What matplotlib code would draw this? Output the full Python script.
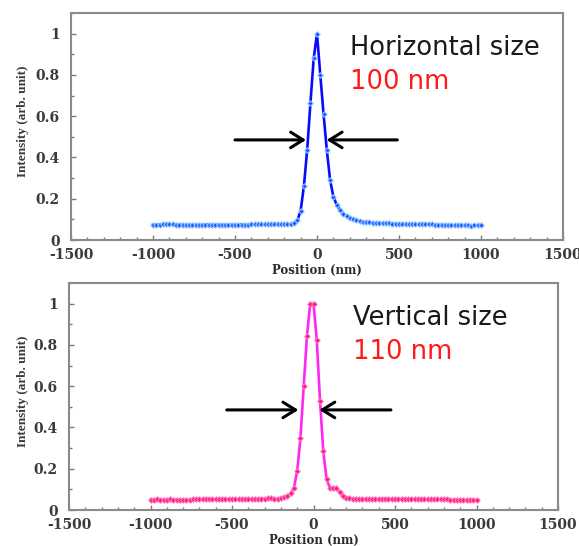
import numpy as np
import matplotlib
matplotlib.use("Agg")
import matplotlib.pyplot as plt
from matplotlib.patches import FancyArrowPatch
from matplotlib.ticker import MultipleLocator

# ---------------- data ----------------
position_nm = list(range(-1000, 1001, 20))

horizontal_intensity = [
    0.074, 0.073, 0.075, 0.076, 0.076, 0.077, 0.076, 0.075, 0.074, 0.074,   # -1000..-820
    0.073, 0.073, 0.072, 0.073, 0.073, 0.074, 0.074, 0.075, 0.074, 0.074,   # -800..-620
    0.073, 0.073, 0.074, 0.074, 0.073, 0.073, 0.074, 0.075, 0.074, 0.075,   # -600..-420
    0.076, 0.076, 0.077, 0.077, 0.076, 0.077, 0.078, 0.077, 0.078, 0.079,   # -400..-220
    0.078, 0.077, 0.076, 0.082, 0.095, 0.14, 0.26, 0.435, 0.665, 0.88,      # -200..-20
    1.0,                                                                      # 0
    0.80, 0.61, 0.435, 0.29, 0.21, 0.17, 0.145, 0.128, 0.117, 0.108,        # 20..200
    0.100, 0.095, 0.091, 0.088, 0.086, 0.085, 0.084, 0.083, 0.082, 0.081,   # 220..400
    0.080, 0.080, 0.079, 0.079, 0.078, 0.078, 0.078, 0.077, 0.077, 0.076,   # 420..600
    0.076, 0.076, 0.077, 0.077, 0.076, 0.075, 0.074, 0.073, 0.072, 0.071,   # 620..800
    0.071, 0.072, 0.072, 0.072, 0.071, 0.071, 0.070, 0.071, 0.071, 0.071,   # 820..1000
]

vertical_intensity = [
    0.050, 0.050, 0.051, 0.050, 0.050, 0.050, 0.051, 0.050, 0.050, 0.049,   # -1000..-820
    0.049, 0.050, 0.050, 0.051, 0.052, 0.052, 0.051, 0.051, 0.052, 0.052,   # -800..-620
    0.051, 0.051, 0.052, 0.052, 0.051, 0.052, 0.052, 0.053, 0.052, 0.052,   # -600..-420
    0.053, 0.053, 0.052, 0.053, 0.054, 0.055, 0.056, 0.057, 0.055, 0.054,   # -400..-220
    0.057, 0.062, 0.068, 0.080, 0.107, 0.19, 0.35, 0.60, 0.845, 1.0,        # -200..-20
    1.0,                                                                      # 0
    0.825, 0.53, 0.285, 0.15, 0.107, 0.107, 0.105, 0.088, 0.068, 0.060,     # 20..200
    0.058, 0.055, 0.055, 0.054, 0.053, 0.054, 0.053, 0.053, 0.054, 0.053,   # 220..400
    0.053, 0.054, 0.054, 0.053, 0.053, 0.054, 0.053, 0.053, 0.052, 0.053,   # 420..600
    0.053, 0.052, 0.053, 0.052, 0.052, 0.053, 0.052, 0.052, 0.051, 0.051,   # 620..800
    0.051, 0.050, 0.050, 0.050, 0.049, 0.049, 0.049, 0.048, 0.048, 0.048,   # 820..1000
]

x_ticks = [-1500, -1000, -500, 0, 500, 1000, 1500]
x_tick_labels = ["-1500", "-1000", "-500", "0", "500", "1000", "1500"]
y_ticks = [0, 0.2, 0.4, 0.6, 0.8, 1.0]
y_tick_labels = ["0", "0.2", "0.4", "0.6", "0.8", "1"]

panels = [
    dict(y=horizontal_intensity, title="Horizontal size", size="100 nm",
         line="#0a0aff", mfc="#1e50ff", mec="#8fcaff",
         rect=[71, 13, 563, 240], arrows=((-500, -67), (490, 59)), tx=200),
    dict(y=vertical_intensity, title="Vertical size", size="110 nm",
         line="#ff28f0", mfc="#ff1470", mec="#ff78c0",
         rect=[69, 283, 558, 510], arrows=((-532, -93), (475, 36)), tx=240),
]

W, H = 579, 546
fig = plt.figure(figsize=(W / 100, H / 100), dpi=100)

for p in panels:
    assert len(p["y"]) == len(position_nm)
    l, t, r, b = p["rect"]
    ax = fig.add_axes([l / W, 1 - b / H, (r - l) / W, (b - t) / H])
    ax.plot(position_nm, p["y"], color=p["line"], lw=1.9, marker="D", ms=2.8,
            mfc=p["mfc"], mec=p["mec"], mew=0.8, zorder=3)
    ax.set_xlim(-1500, 1500)
    ax.set_ylim(0, 1.1)
    ax.set_xticks(x_ticks)
    ax.set_xticklabels(x_tick_labels)
    ax.set_yticks(y_ticks)
    ax.set_yticklabels(y_tick_labels)
    ax.xaxis.set_minor_locator(MultipleLocator(100))
    ax.yaxis.set_minor_locator(MultipleLocator(0.1))
    ax.tick_params(which="both", direction="in", color="#7a7a7a", width=1, top=False, right=False)
    ax.tick_params(which="major", length=3.5)
    ax.tick_params(which="minor", length=2.5)
    ax.tick_params(axis="x", pad=6, labelsize=10, labelcolor="#3a3a3a")
    ax.tick_params(axis="y", pad=8, labelsize=10, labelcolor="#3a3a3a")
    for lab in ax.get_xticklabels() + ax.get_yticklabels():
        lab.set_fontfamily("DejaVu Serif")
        lab.set_fontweight("bold")
    for s in ax.spines.values():
        s.set_color("#8a8a8a")
        s.set_linewidth(1.5)

    ax.text(p["tx"], 0.895, p["title"], fontsize=18.5, color="#1a1a1a",
            family="DejaVu Sans", va="baseline", ha="left")
    ax.text(p["tx"], 0.732, p["size"], fontsize=18.5, color="#ff1a1a",
            family="DejaVu Sans", va="baseline", ha="left")

    for (x0, x1) in p["arrows"]:
        arr = FancyArrowPatch((x0, 0.485), (x1, 0.485),
                              arrowstyle="->,head_length=0.45,head_width=0.28",
                              mutation_scale=20, lw=2.2, color="black",
                              shrinkA=0, shrinkB=0, zorder=4)
        ax.add_patch(arr)

    fig.text(23 / W, 1 - ((t + b) / 2 - 5) / H, "Intensity (arb. unit)", rotation=90,
             ha="center", va="center", fontsize=9.5, fontweight="bold",
             family="Liberation Serif", color="#3a3a3a")
    x0_px = ax.transData.transform((0, 0))[0]
    fig.text(x0_px / W, 1 - (b + 30) / H, "Position (nm)", ha="center", va="center",
             fontsize=8.5, fontweight="bold", family="DejaVu Serif", color="#2a2a2a")

fig.savefig("out.png", dpi=100, facecolor="white")
